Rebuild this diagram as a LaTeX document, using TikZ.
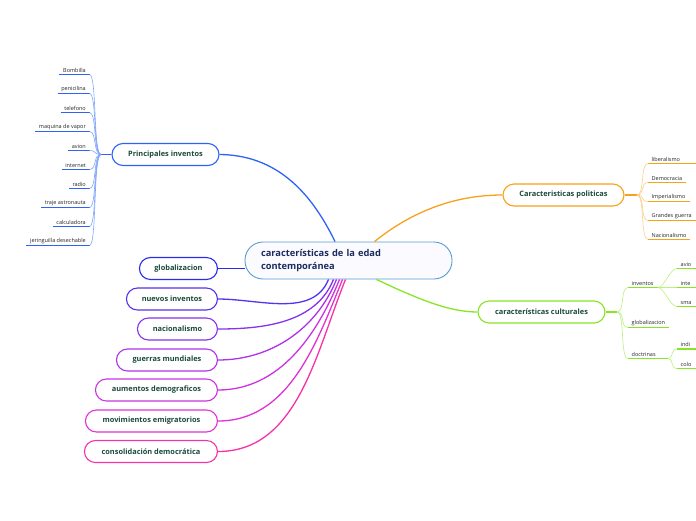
\documentclass[tikz,border=0pt]{standalone}
\usepackage{fontspec}
\setmainfont{Open Sans}
\usetikzlibrary{calc}

\definecolor{boxtext}{HTML}{1B4A3C}
\definecolor{midtext}{HTML}{1C2B5E}
\definecolor{midline}{HTML}{5A9AD2}
\definecolor{blueb}{HTML}{2F63F5}
\definecolor{bluel}{HTML}{7FA4FA}
\definecolor{orangeb}{HTML}{F7A21B}
\definecolor{orangel}{HTML}{FBCF85}
\definecolor{greenb}{HTML}{86E625}
\definecolor{greenl}{HTML}{B9F07F}
\definecolor{cA}{HTML}{2B2BEE}
\definecolor{cB}{HTML}{5532EE}
\definecolor{cC}{HTML}{8632EE}
\definecolor{cD}{HTML}{AE32EC}
\definecolor{cE}{HTML}{CC32E2}
\definecolor{cF}{HTML}{E232D2}
\definecolor{cG}{HTML}{F532A8}

\begin{document}
\begin{tikzpicture}[x=1pt, y=-1pt,
  topic/.style={draw, rounded corners=11pt, line width=1.1pt, fill=white,
    minimum height=22pt, inner sep=0pt, text=boxtext,
    font=\fontsize{7.4}{8}\selectfont\bfseries},
  leaf/.style={font=\fontsize{5.5}{6}\selectfont, text=black!85,
    inner xsep=3.5pt, inner ysep=1.8pt},
  under/.style={line width=1.4pt},
  twig/.style={line width=0.6pt},
  limb/.style={line width=1.3pt}]
  \useasboundingbox (0,0) rectangle (696,520);
  \clip (0,0) rectangle (696,520);

  % centre
  \node[draw=midline, line width=0.9pt, fill=blue!2, rounded corners=18pt,
    minimum height=37pt, text width=175pt, inner xsep=16pt, align=left,
    text=midtext, font=\fontsize{9.3}{13}\selectfont\bfseries]
    (mid) at (348.5,260.5) {características de la edad\\contemporánea};

  % main topics
  \node[topic, draw=blueb, minimum width=107pt] (inv) at (165.5,154.5) {Principales inventos};
  \node[topic, draw=orangeb, minimum width=121pt] (pol) at (563.5,195) {Caracteristicas politicas};
  \node[topic, draw=greenb, minimum width=127pt] (cul) at (541.5,312) {características culturales};

  \draw[limb, blueb] ($(mid.north)+(-13.5,0)$) .. controls (310,190) and (275,155) .. (inv.east);
  \draw[limb, orangeb] ($(mid.north)+(26,0)$) .. controls (420,205) and (465,195) .. (pol.west);
  \draw[limb, greenb] ($(mid.south)+(28,0)$) .. controls (420,300) and (450,312) .. (cul.west);

  % left column
  \foreach \n/\txt/\y/\w/\c in {
      glo/globalizacion/268.5/78/cA,
      nue/nuevos inventos/299/91/cB,
      nac/nacionalismo/329/80/cC,
      gue/guerras mundiales/360/101/cD,
      aum/aumentos demograficos/390/122/cE,
      mov/movimientos emigratorios/421/132/cF,
      con/consolidación democrática/451.5/133/cG}{
    \node[topic, draw=\c, minimum width=\w pt, anchor=east] (\n) at (218,\y) {\txt};
  }
  \draw[limb, cA] (mid.west |- glo.east) -- (glo.east);
  \foreach \n/\c/\dx in {nue/cB/-20, nac/cC/-15, gue/cD/-12, aum/cE/-9, mov/cF/-6, con/cG/-3}{
    \draw[limb, \c] ($(mid.south)+(\dx,0)$) to[out=-112, in=0, looseness=0.95] (\n.east);
  }

  % inventos
  \coordinate (hubI) at (101,154.5);
  \draw[limb, blueb] (inv.west) -- (hubI);
  \foreach \n/\txt/\y in {bom/Bombilla/74.5, pen/penicilina/93.5, tel/telefono/112.5,
      maq/maquina de vapor/131.5, avi/avion/150.5, int/internet/169.5, rad/radio/188.5,
      tra/traje astronauta/207.5, cal/calculadora/226.5, jer/jeringuilla desechable/245.5}{
    \node[leaf, anchor=south east] (\n) at (89.5,\y) {\txt};
    \draw[under, blueb] (\n.south west) -- (\n.south east);
    \draw[twig, bluel] (hubI) .. controls (93,154.5) and (97,\y) .. (\n.south east);
  }

  % politica
  \coordinate (hubP) at (637,195);
  \draw[limb, orangeb] (pol.east) -- (hubP);
  \foreach \n/\txt/\y/\w in {lib/liberalismo/163.5/60, dem/Democracia/182.5/38,
      imp/Imperialismo/201.5/42, gra/Grandes guerra/220.5/60, nal/Nacionalismo/239.5/42}{
    \node[leaf, anchor=south west] (\n) at (648,\y) {\txt};
    \draw[under, orangeb] (\n.south west) -- ++(\w,0);
    \draw[twig, orangel] (hubP) .. controls (645,195) and (640,\y) .. (\n.south west);
  }

  % cultura
  \coordinate (hubC) at (617,312);
  \draw[limb, greenb] (cul.east) -- (hubC);
  \foreach \n/\txt/\y/\w in {cinv/inventos/287.5/30, cglo/globalizacion/327.5/41, cdoc/doctrinas/358.5/40}{
    \node[leaf, anchor=south west] (\n) at (628,\y) {\txt};
    \coordinate (\n-end) at ($(\n.south west)+(\w,0)$);
    \draw[under, greenb] (\n.south west) -- (\n-end);
    \draw[twig, greenl] (hubC) .. controls (625,312) and (620,\y) .. (\n.south west);
  }
  \foreach \n/\txt/\y/\p in {cav/avio/268.5/cinv, cin/inte/287.5/cinv, csm/sma/306.5/cinv,
      cind/indi/349/cdoc, ccol/colo/368.5/cdoc}{
    \node[leaf, anchor=south west] (\n) at (677,\y) {\txt};
    \draw[under, greenb] (\n.south west) -- ++(30,0);
    \draw[twig, greenl] (\p-end) .. controls ($(\p-end)+(6,0)$) and (670,\y) .. (\n.south west);
  }
\end{tikzpicture}
\end{document}
